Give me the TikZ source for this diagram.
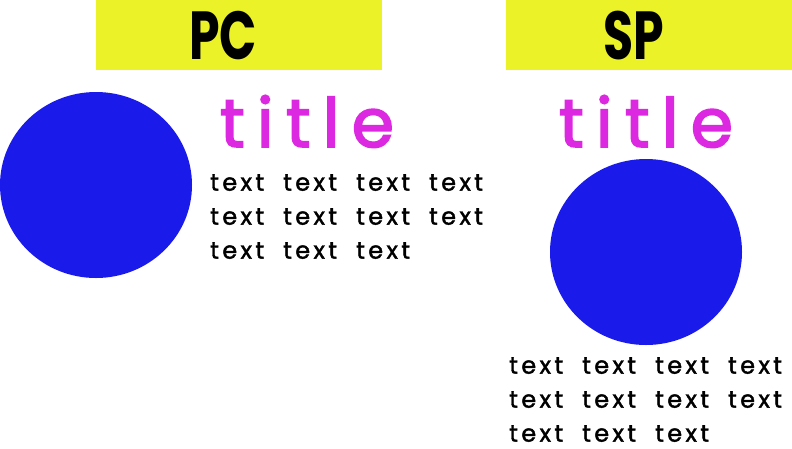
\documentclass[tikz,border=0pt]{standalone}
\usepackage{fontspec}
\setmainfont{Poppins}
\newfontfamily\headfont[FakeStretch=0.72]{Poppins}
\newfontfamily\handfont[LetterSpace=14,WordSpace=1.95,FakeBold=1.6]{Poppins}
\newfontfamily\titlefont[LetterSpace=18,FakeBold=2.5]{Poppins}
\usetikzlibrary{positioning, shapes.geometric}
\definecolor{barY}{RGB}{236,242,40}
\definecolor{dotB}{RGB}{26,26,235}
\definecolor{ttlM}{RGB}{220,40,225}

\begin{document}
\begin{tikzpicture}[x=1pt, y=1pt,
    node distance = 12pt and 9pt,
    HB/.style = {fill=barY, minimum width=286pt, minimum height=70pt,
                    inner sep=0pt},
    HL/.style = {font=\headfont\fontsize{68}{68}\selectfont\bfseries,
                    inner sep=0pt, anchor=base},
    DOT/.style = {ellipse, fill=dotB, minimum width=192pt,
                    minimum height=186pt, inner sep=0pt},
    TTL/.style = {font=\titlefont\fontsize{68}{68}\selectfont,
                    text=ttlM, inner sep=0pt, anchor=base},
    TXT/.style = {font=\handfont\fontsize{24}{34}\selectfont,
                    align=left, inner sep=0pt, anchor=north west}]
%---
\useasboundingbox (0,0) rectangle (792,-448);
% left column (PC)
\node (b1) [HB] at (239,-35)          {};
\node (h1) [HL] at (223,-59)          {PC};
\node (c1) [DOT] at (96,-185)         {};
\node (t1) [TTL] at (307,-147)        {title};
\node (x1) [TXT] at (210,-174)        {text text text text\\text text text text\\text text text};
% right column (SP)
\node (b2) [HB] at (649,-35)          {};
\node (h2) [HL] at (634,-59)          {SP};
\node (t2) [TTL] at (646,-147)        {title};
\node (c2) [DOT] at (646,-252)        {};
\node (x2) [TXT] at (509,-357)        {text text text text\\text text text text\\text text text};
\end{tikzpicture}
\end{document}
